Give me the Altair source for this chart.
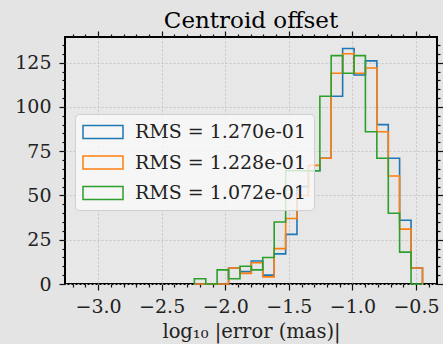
import altair as alt
import pandas as pd

# ---- data ----
bin_edges = [-2.243, -2.153, -2.064, -1.974, -1.884, -1.795, -1.705, -1.615, -1.525, -1.436,
             -1.346, -1.256, -1.167, -1.077, -0.987, -0.898, -0.808, -0.718, -0.629, -0.539, -0.449]
series_names = ["RMS = 1.270e-01", "RMS = 1.228e-01", "RMS = 1.072e-01"]
counts_blue = [0, 0, 0, 9, 7, 13, 5, 17, 28, 55, 64, 71, 106, 133, 118, 126, 90, 71, 36, 9]
counts_orange = [0, 0, 0, 9, 6, 12, 4, 20, 37, 50, 67, 71, 119, 130, 119, 122, 86, 61, 31, 9]
counts_green = [3, 0, 8, 3, 10, 8, 15, 35, 64, 64, 64, 106, 129, 119, 129, 86, 71, 40, 18, 0]
colors = ["#1f77b4", "#ff7f0e", "#2ca02c"]
x_ticks_minor = [round(-3.2 + 0.1 * i, 1) for i in range(29)]
y_ticks_minor = [5 * i for i in range(28)]
x_domain = [-3.26, -0.335]
y_domain = [0, 139.5]

rows = []
for name, counts in zip(series_names, [counts_blue, counts_orange, counts_green]):
    pts = [(bin_edges[0], 0)] + list(zip(bin_edges[:-1], counts)) + [(bin_edges[-1], 0)]
    for i, (x, y) in enumerate(pts):
        rows.append({"series": name, "x": x, "y": y, "i": i})
df = pd.DataFrame(rows)

SERIF = "DejaVu Serif"
x_major = "abs(datum.value*2 - round(datum.value*2)) < 0.001"
y_major = "abs(datum.value/25 - round(datum.value/25)) < 0.001"

def tick_size(test):
    return {"condition": {"test": test, "value": 6}, "value": 3}

xs = alt.Scale(domain=x_domain, nice=False, zero=False)
ys = alt.Scale(domain=y_domain, nice=False, zero=False)

lines = alt.Chart(df).mark_line(interpolate="step-after", strokeWidth=1.6).encode(
    x=alt.X("x:Q", scale=xs, title="log₁₀ |error (mas)|",
            axis=alt.Axis(values=x_ticks_minor, format=".1f", labelExpr=f"{x_major} ? datum.label : ''",
                          tickSize=tick_size(x_major),
                          gridOpacity={"condition": {"test": x_major, "value": 1}, "value": 0},
                          labelOverlap=False, labelFlush=False, labelPadding=7, titlePadding=6)),
    y=alt.Y("y:Q", scale=ys, title=None,
            axis=alt.Axis(values=y_ticks_minor, format="d", labelExpr=f"{y_major} ? datum.label : ''",
                          tickSize=tick_size(y_major),
                          gridOpacity={"condition": {"test": y_major, "value": 1}, "value": 0},
                          labelOverlap=False, labelFlush=False, labelPadding=8)),
    color=alt.Color("series:N", scale=alt.Scale(domain=series_names, range=colors),
                    legend=alt.Legend(title=None, orient="none", legendX=10, legendY=77)),
    order=alt.Order("i:Q"),
)

mirror = alt.Chart(df).mark_point(opacity=0).encode(
    x=alt.X("x:Q", scale=xs, title=None,
            axis=alt.Axis(orient="top", values=x_ticks_minor, labels=False, grid=False,
                          tickSize=tick_size(x_major))),
    y=alt.Y("y:Q", scale=ys, title=None,
            axis=alt.Axis(orient="right", values=y_ticks_minor, labels=False, grid=False,
                          tickSize=tick_size(y_major))),
)

chart = alt.layer(lines, mirror).resolve_scale(x="independent", y="independent").properties(
    width=372, height=247,
    title=alt.TitleParams("Centroid offset", font=SERIF, fontSize=23, fontWeight="normal",
                          color="black", offset=-3),
    autosize=alt.AutoSizeParams(type="none"),
    padding={"left": 65, "top": 37, "right": 6, "bottom": 60},
    background="#e4e4e4",
).configure_view(
    stroke="black", strokeWidth=2, fill="#e7e7e7"
).configure_axis(
    domain=False, grid=True, gridColor="#c6c6c6", gridDash=[2, 2], gridWidth=1,
    tickColor="#111111", tickWidth=1.2,
    labelFont=SERIF, labelFontSize=19, labelColor="#222222",
    titleFont=SERIF, titleFontSize=19.5, titleFontWeight="normal", titleColor="#222222",
).configure_legend(
    symbolType="M-2,-0.65L2,-0.65L2,0.65L-2,0.65Z", symbolSize=400, symbolOffset=10,
    symbolStrokeWidth=1.5, symbolFillColor="transparent",
    labelFont=SERIF, labelFontSize=19, labelColor="#222222", labelLimit=400, labelOffset=21,
    padding=7, fillColor="rgba(250,250,250,0.8)", strokeColor="#d0d0d0", cornerRadius=4,
    rowPadding=9.5,
)

chart.save("out.html", embed_options={"renderer": "svg", "actions": False})
